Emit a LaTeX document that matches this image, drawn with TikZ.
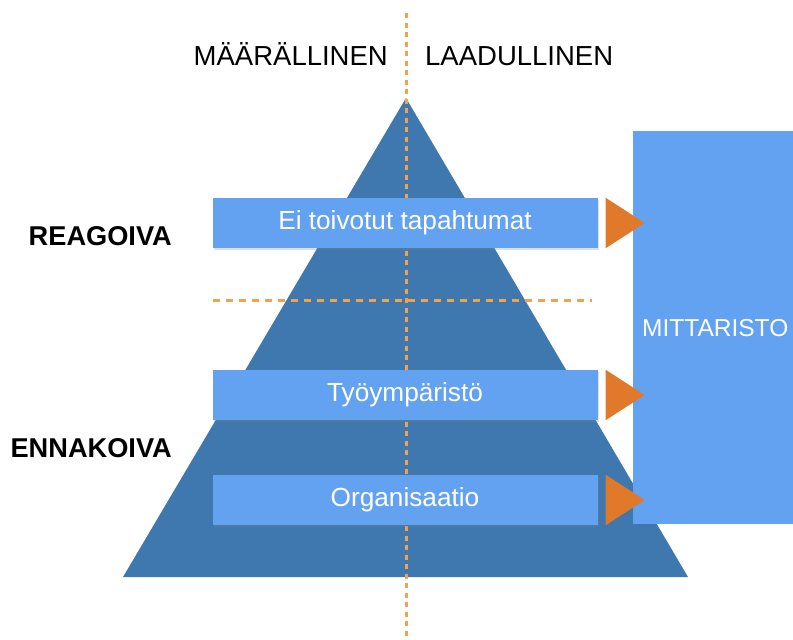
\documentclass[tikz,border=0pt]{standalone}
\usepackage{fontspec}
\setmainfont{Liberation Sans}
\usetikzlibrary{positioning,shadows}
\definecolor{pyrblue}{HTML}{3F78AE}
\definecolor{barblue}{HTML}{63A2F0}
\definecolor{tiporange}{HTML}{E07A2A}
\definecolor{dashorange}{HTML}{F2A24E}
\tikzset{
  bar/.style={fill=barblue, minimum width=385pt, minimum height=50pt, inner sep=0pt,
    text=white, font=\fontsize{26.2}{30}\selectfont,
    drop shadow={shadow xshift=1pt, shadow yshift=-2pt, opacity=.25}},
  head/.style={font=\fontsize{27.5}{32}\selectfont, inner sep=0pt},
  side/.style={font=\bfseries\fontsize{27.2}{32}\selectfont, inner sep=0pt},
  divider/.style={draw=dashorange, line width=3pt, dash pattern=on 7pt off 6pt},
  tip/.style={fill=tiporange},
}
\begin{document}
\begin{tikzpicture}[x=1pt,y=-1pt]
  \useasboundingbox (0,0) rectangle (793,640);
  \fill[pyrblue] (406,98) -- (688,577) -- (123,577) -- cycle; % pyramid
  \draw[divider, dash pattern=on 5pt off 4.5pt] (406,13) -- (406,640);
  \draw[divider] (213,300) -- (592,300);

  \node[head, anchor=base east] (maara) at (388,65) {MÄÄRÄLLINEN};
  \node[head, anchor=base west] (laatu) at (425,65) {LAADULLINEN};
  \node[side, anchor=base east] (reag) at (172,245) {REAGOIVA};
  \node[side, anchor=base east] (ennak) at (172,457) {ENNAKOIVA};

  \node[bar] (b1) at (405,223) {Ei toivotut tapahtumat};
  \node[bar] (b2) at (405,395) {Työympäristö};
  \node[bar] (b3) at (405,500) {Organisaatio};

  \node[fill=barblue, anchor=north west, minimum width=180pt, minimum height=393pt,
    inner sep=0pt] (mitt) at (633,131) {};
  \node[anchor=west, text=white, font=\fontsize{24.5}{30}\selectfont, inner sep=0pt]
    (mittlabel) at ([xshift=9pt]mitt.west) {MITTARISTO};

  \foreach \b in {b1,b2,b3}
    \fill[tip] ([xshift=8pt]\b.north east) -- ([xshift=8pt]\b.south east)
      -- ([xshift=47pt]\b.east) -- cycle;
\end{tikzpicture}
\end{document}
